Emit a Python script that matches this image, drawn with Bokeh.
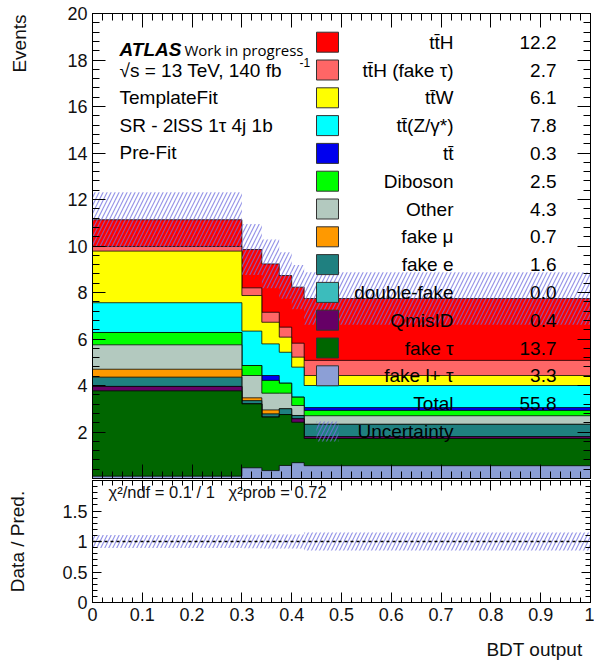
import numpy as np
from bokeh.plotting import figure
from bokeh.models import Range1d, LinearAxis, FixedTicker, Label, Span, CustomJSTickFormatter, Title
from bokeh.layouts import column
from bokeh.embed import file_html
from bokeh.resources import INLINE
from bokeh.core.properties import value

# ---------------- data ----------------
bin_edges = [0.0, 0.30, 0.34, 0.375, 0.40, 0.425, 1.0]

# per-bin yields, stack order bottom -> top
fake_ltau   = [0.10, 0.46, 0.34, 0.56, 0.68, 0.55]
fake_tau    = [3.67, 2.75, 2.30, 2.19, 1.74, 1.17]
qmisid      = [0.19, 0.00, 0.00, 0.00, 0.15, 0.08]
double_fake = [0.00, 0.00, 0.00, 0.00, 0.00, 0.00]
fake_e      = [0.40, 0.14, 0.14, 0.25, 0.14, 0.53]
fake_mu     = [0.34, 0.12, 0.17, 0.00, 0.00, 0.00]
other       = [1.05, 0.96, 0.72, 0.67, 0.43, 0.37]
diboson     = [0.53, 0.43, 0.55, 0.43, 0.36, 0.23]
ttbar       = [0.00, 0.00, 0.21, 0.00, 0.00, 0.12]
ttz         = [1.28, 1.48, 1.36, 1.33, 1.29, 0.95]
ttw         = [2.22, 1.53, 0.93, 0.65, 0.43, 0.43]
tth_faketau = [0.20, 0.33, 0.43, 0.43, 0.60, 0.65]
tth         = [1.15, 1.65, 2.08, 2.22, 2.41, 2.66]

# absolute uncertainty on total prediction per bin
total_unc   = [1.18, 1.10, 1.05, 1.00, 0.95, 1.13]

# legend (top -> bottom)
legend_labels = ["t\u0074\u0304H", "t\u0074\u0304H (fake \u03c4)", "t\u0074\u0304W", "t\u0074\u0304(Z/\u03b3*)",
                 "t\u0074\u0304", "Diboson", "Other", "fake \u03bc", "fake e", "double-fake",
                 "QmisID", "fake \u03c4", "fake l+ \u03c4"]
legend_yields = [12.2, 2.7, 6.1, 7.8, 0.3, 2.5, 4.3, 0.7, 1.6, 0.0, 0.4, 13.7, 3.3]
total_yield = 55.8

main_y_ticks = [2, 4, 6, 8, 10, 12, 14, 16, 18, 20]
ratio_y_ticks = [0, 0.5, 1, 1.5]
x_ticks = [0, 0.1, 0.2, 0.3, 0.4, 0.5, 0.6, 0.7, 0.8, 0.9, 1]

# ---------------- styles ----------------
colors_top_down = ["#ff0000", "#ff6666", "#ffff00", "#00ffff", "#0000ee", "#00ff00",
                   "#b3c9bf", "#ff9900", "#1f8080", "#3cbcbc", "#660066", "#006600", "#8c9fd6"]
stack = [fake_ltau, fake_tau, qmisid, double_fake, fake_e, fake_mu, other, diboson,
         ttbar, ttz, ttw, tth_faketau, tth]
stack_colors = colors_top_down[::-1]

FONT = "Liberation Sans"
HATCH = dict(hatch_pattern="/", hatch_color="#7272e0", hatch_alpha=0.75, hatch_scale=8, hatch_weight=1.2)

edges = np.array(bin_edges)
cum = np.cumsum(np.array(stack), axis=0)
total = cum[-1]
unc = np.array(total_unc)

W = 594
L, R = 92, 4


def px_to_x(px):
    return (px - L) / (W - L - R)


def style_axis(ax, major_in, minor_in, show_labels=True):
    ax.major_tick_in = major_in
    ax.major_tick_out = 0
    ax.minor_tick_in = minor_in
    ax.minor_tick_out = 0
    ax.axis_line_color = "black"
    ax.major_tick_line_color = "black"
    ax.minor_tick_line_color = "black"
    if show_labels:
        ax.major_label_text_font = FONT
        ax.major_label_text_font_size = "18px"
        ax.major_label_text_color = "#111111"
        ax.major_label_standoff = 5
    else:
        ax.formatter = CustomJSTickFormatter(code="return ''")
        ax.major_label_text_font_size = "0px"
        ax.major_label_standoff = 0


def spacer_label(ax, size_px, standoff):
    # blank axis label used only to push the outer title away from the frame
    ax.axis_label = "\u00a0"
    ax.axis_label_text_font = FONT
    ax.axis_label_text_font_size = f"{size_px}px"
    ax.axis_label_standoff = standoff


def make_title(text, align, offset, standoff):
    return Title(text=text, align=align, offset=offset, standoff=standoff,
                 text_font=FONT, text_font_size="19px", text_font_style="normal",
                 text_color="#111111")


num_fmt = CustomJSTickFormatter(code="return String(Math.round(tick*100)/100)")

# ---------------- main panel ----------------
H1 = 479
p1 = figure(width=W, height=H1, x_range=Range1d(0, 1), y_range=Range1d(0, 20),
            output_backend="svg", toolbar_location=None,
            min_border_left=L, min_border_right=R, min_border_top=13, min_border_bottom=1)
p1.xgrid.visible = False
p1.ygrid.visible = False
p1.outline_line_color = "black"
p1.background_fill_color = "white"
p1.border_fill_color = "white"

x_ticker = FixedTicker(ticks=x_ticks, minor_ticks=[round(i * 0.02, 2) for i in range(51)])
y1_ticker = FixedTicker(ticks=main_y_ticks, minor_ticks=[round(i * 0.4, 1) for i in range(51)])

p1.xaxis.ticker = x_ticker
style_axis(p1.xaxis[0], 14, 7, show_labels=False)
p1.yaxis.ticker = y1_ticker
p1.yaxis.formatter = num_fmt
style_axis(p1.yaxis[0], 13, 7)
spacer_label(p1.yaxis[0], 19, 8)
p1.add_layout(make_title("Events", "right", 1, 6), "left")

top_ax = LinearAxis(ticker=x_ticker)
style_axis(top_ax, 14, 7, show_labels=False)
p1.add_layout(top_ax, "above")
right_ax = LinearAxis(ticker=y1_ticker)
style_axis(right_ax, 13, 7, show_labels=False)
p1.add_layout(right_ax, "right")

# stacked histogram, drawn from the top of the stack downwards
for k in range(len(stack) - 1, -1, -1):
    top = cum[k]
    xs = [edges[0]]
    ys = [0.0]
    for i in range(len(top)):
        xs += [edges[i], edges[i + 1]]
        ys += [top[i], top[i]]
    xs.append(edges[-1])
    ys.append(0.0)
    p1.patch(xs, ys, fill_color=stack_colors[k], line_color="black", line_width=1, line_alpha=0.75)

# uncertainty band
p1.quad(left=edges[:-1], right=edges[1:], bottom=total - unc, top=total + unc,
        fill_alpha=0, line_alpha=0, **HATCH)

# legend
row0, dy = 41.7, 27.8
rows_px = [row0 + i * dy for i in range(len(legend_labels) + 2)]
rows_y = [(478 - r) / 23.25 for r in rows_px]
n = len(legend_labels)
box_x = px_to_x(327)
lab_x = px_to_x(453)
val_x = px_to_x(556)
p1.rect(x=[box_x] * n, y=rows_y[:n], width=22, height=20, width_units="screen",
        height_units="screen", fill_color=colors_top_down, line_color="#333333", line_width=1)
p1.rect(x=[box_x], y=[rows_y[n + 1]], width=22, height=20, width_units="screen",
        height_units="screen", fill_alpha=0, line_alpha=0, **HATCH)
p1.text(x=[lab_x] * (n + 2), y=rows_y, text=legend_labels + ["Total", "Uncertainty"],
        text_align="right", text_baseline="middle", text_font=value(FONT),
        text_font_size="19px", text_color="black")
p1.text(x=[val_x] * (n + 1), y=rows_y[:n + 1],
        text=[f"{v:.1f}" for v in legend_yields] + [f"{total_yield:.1f}"],
        text_align="right", text_baseline="middle", text_font=value(FONT),
        text_font_size="19px", text_color="black")

# ATLAS label block
tx = px_to_x(119)
p1.text(x=[tx], y=[(478 - 49) / 23.25], text=["ATLAS"], text_font=value(FONT),
        text_font_style="bold italic", text_font_size="19px", text_baseline="alphabetic")
p1.text(x=[px_to_x(184)], y=[(478 - 49) / 23.25], text=["Work in progress"],
        text_font=value("Open Sans"), text_font_size="15px", text_baseline="alphabetic")
info_rows = ["\u221as = 13 TeV, 140 fb", "TemplateFit", "SR - 2lSS 1\u03c4 4j 1b", "Pre-Fit"]
info_px = [70, 97, 125, 152]
p1.text(x=[tx] * 4, y=[(478 - r) / 23.25 for r in info_px], text=info_rows,
        text_font=value(FONT), text_font_size="19px", text_baseline="middle")
p1.text(x=[px_to_x(299)], y=[(478 - 62) / 23.25], text=["-1"], text_font=value(FONT),
        text_font_size="12px", text_baseline="middle")

# ---------------- ratio panel ----------------
H2 = 660 - H1
p2 = figure(width=W, height=H2, x_range=Range1d(0, 1), y_range=Range1d(0, 2),
            output_backend="svg", toolbar_location=None,
            min_border_left=L, min_border_right=R, min_border_top=1, min_border_bottom=58)
p2.xgrid.visible = False
p2.ygrid.visible = False
p2.outline_line_color = "black"
p2.background_fill_color = "white"
p2.border_fill_color = "white"

x2_ticker = FixedTicker(ticks=x_ticks, minor_ticks=[round(i * 0.02, 2) for i in range(51)])
y2_ticker = FixedTicker(ticks=ratio_y_ticks, minor_ticks=[round(i * 0.1, 1) for i in range(21)])
p2.xaxis.ticker = x2_ticker
p2.xaxis.formatter = num_fmt
style_axis(p2.xaxis[0], 10, 5)
spacer_label(p2.xaxis[0], 8, 0)
p2.add_layout(make_title("BDT output", "right", 8, 2), "below")
p2.yaxis.ticker = y2_ticker
p2.yaxis.formatter = num_fmt
style_axis(p2.yaxis[0], 9, 5)
p2.yaxis.axis_label = "Data / Pred."
p2.yaxis.axis_label_text_font = FONT
p2.yaxis.axis_label_text_font_size = "19px"
p2.yaxis.axis_label_text_font_style = "normal"
p2.yaxis.axis_label_text_color = "#111111"
p2.yaxis.axis_label_standoff = 31
top2 = LinearAxis(ticker=x2_ticker)
style_axis(top2, 10, 5, show_labels=False)
p2.add_layout(top2, "above")
right2 = LinearAxis(ticker=y2_ticker)
style_axis(right2, 9, 5, show_labels=False)
p2.add_layout(right2, "right")

rel = unc / total
p2.quad(left=edges[:-1], right=edges[1:], bottom=1 - rel, top=1 + rel,
        fill_alpha=0, line_alpha=0, **HATCH)
p2.add_layout(Span(location=1, dimension="width", line_color="black", line_dash="3 3", line_width=1.5))

p2.add_layout(Label(x=px_to_x(108), y=(601.7 - 491) / 60.85,
                    text="\u03c7\u00b2/ndf = 0.1 / 1\u00a0\u00a0\u00a0\u03c7\u00b2prob = 0.72",
                    text_baseline="middle", text_font=FONT, text_font_size="16.5px", text_color="#111111"))

layout = column(p1, p2, spacing=0)
open("out.html", "w").write(file_html(layout, INLINE))
